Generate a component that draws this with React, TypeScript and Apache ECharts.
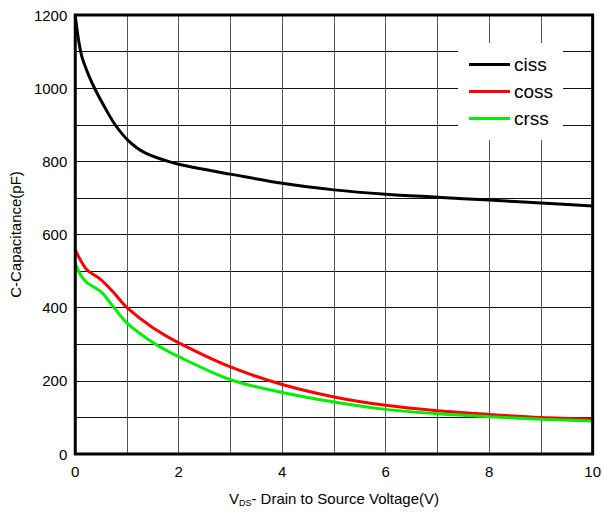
import React, { useEffect, useRef } from "react";
import * as echarts from "echarts";

const vdsCiss = [0, 0.03, 0.065, 0.13, 0.26, 0.39, 0.58, 0.77, 1.03, 1.35, 1.86, 2.3, 3, 4, 5, 6, 7, 8, 9, 10];
const ciss = [1198, 1165, 1130, 1085, 1035, 995, 945, 900, 856, 823, 797, 783, 765, 740, 722, 710, 702, 694, 686, 678];
const vdsOut = [0, 0.1, 0.23, 0.5, 0.75, 1, 1.5, 2, 3, 4, 5, 6, 7, 8, 9, 10];
const coss = [558, 530, 503, 476, 440, 400, 345, 304, 238, 190, 156, 133, 118, 108, 100, 96];
const crss = [522, 490, 468, 443, 400, 358, 305, 266, 203, 168, 142, 122, 110, 102, 95, 90];
const seriesNames = ["ciss", "coss", "crss"];

const font = "Liberation Sans, Arial, sans-serif";

export default function App() {
  const ref = useRef<HTMLDivElement>(null);
  useEffect(() => {
    document.body.style.margin = "0";
    const chart = echarts.init(ref.current!, null, { renderer: "svg" });
    const pair = (xs: number[], ys: number[]) => xs.map((x, i) => [x, ys[i]]);
    chart.setOption({
      animation: false,
      textStyle: { fontFamily: font },
      grid: {
        left: 73,
        right: 10,
        top: 15,
        bottom: 64,
        show: true,
        borderColor: "#000",
        borderWidth: 3,
        z: 10,
      },
      legend: {
        orient: "vertical",
        left: 458,
        top: 43,
        padding: [12, 10, 12, 11],
        itemGap: 8,
        backgroundColor: "#fff",
        icon: "rect",
        itemWidth: 41,
        itemHeight: 3,
        data: seriesNames,
        textStyle: { fontSize: 19, color: "#000", fontFamily: font, padding: [0, 0, 0, -1] },
        z: 20,
      },
      xAxis: {
        type: "value",
        min: 0,
        max: 10,
        interval: 1,
        axisLine: { show: false },
        axisTick: { show: false },
        splitLine: { show: true, lineStyle: { color: "#555", width: 1 } },
        axisLabel: {
          fontSize: 15,
          color: "#000",
          margin: 10,
          fontFamily: font,
          formatter: (v: number) => (v % 2 === 0 ? String(v) : ""),
        },
        name: "{v|V}{s|DS}{n|- Drain to Source Voltage(V)}",
        nameLocation: "middle",
        nameGap: 36,
        nameTextStyle: {
          rich: {
            v: { fontSize: 15, color: "#000", fontFamily: font },
            s: { fontSize: 9, color: "#000", fontFamily: font, verticalAlign: "bottom", padding: [8, 0, 0, 0] },
            n: { fontSize: 15, color: "#000", fontFamily: font },
          },
        },
      },
      yAxis: {
        type: "value",
        min: 0,
        max: 1200,
        interval: 100,
        axisLine: { show: false },
        axisTick: { show: false },
        splitLine: { show: true, lineStyle: { color: "#111", width: 1 } },
        axisLabel: {
          fontSize: 15,
          color: "#000",
          margin: 8,
          fontFamily: font,
          formatter: (v: number) => (v % 200 === 0 ? String(v) : ""),
        },
        name: "C-Capacitance(pF)",
        nameLocation: "middle",
        nameGap: 50,
        nameTextStyle: { fontSize: 15, color: "#000", fontFamily: font },
      },
      series: [
        {
          name: "ciss",
          type: "line",
          smooth: 0.3,
          symbol: "none",
          data: pair(vdsCiss, ciss),
          lineStyle: { color: "#000", width: 3 },
          itemStyle: { color: "#000" },
        },
        {
          name: "coss",
          type: "line",
          smooth: 0.3,
          symbol: "none",
          data: pair(vdsOut, coss),
          lineStyle: { color: "#ff0000", width: 3 },
          itemStyle: { color: "#ff0000" },
        },
        {
          name: "crss",
          type: "line",
          smooth: 0.3,
          symbol: "none",
          data: pair(vdsOut, crss),
          lineStyle: { color: "#00ee00", width: 3 },
          itemStyle: { color: "#00ee00" },
        },
      ],
    });
    return () => chart.dispose();
  }, []);
  return <div ref={ref} style={{ width: 604, height: 518 }} />;
}
